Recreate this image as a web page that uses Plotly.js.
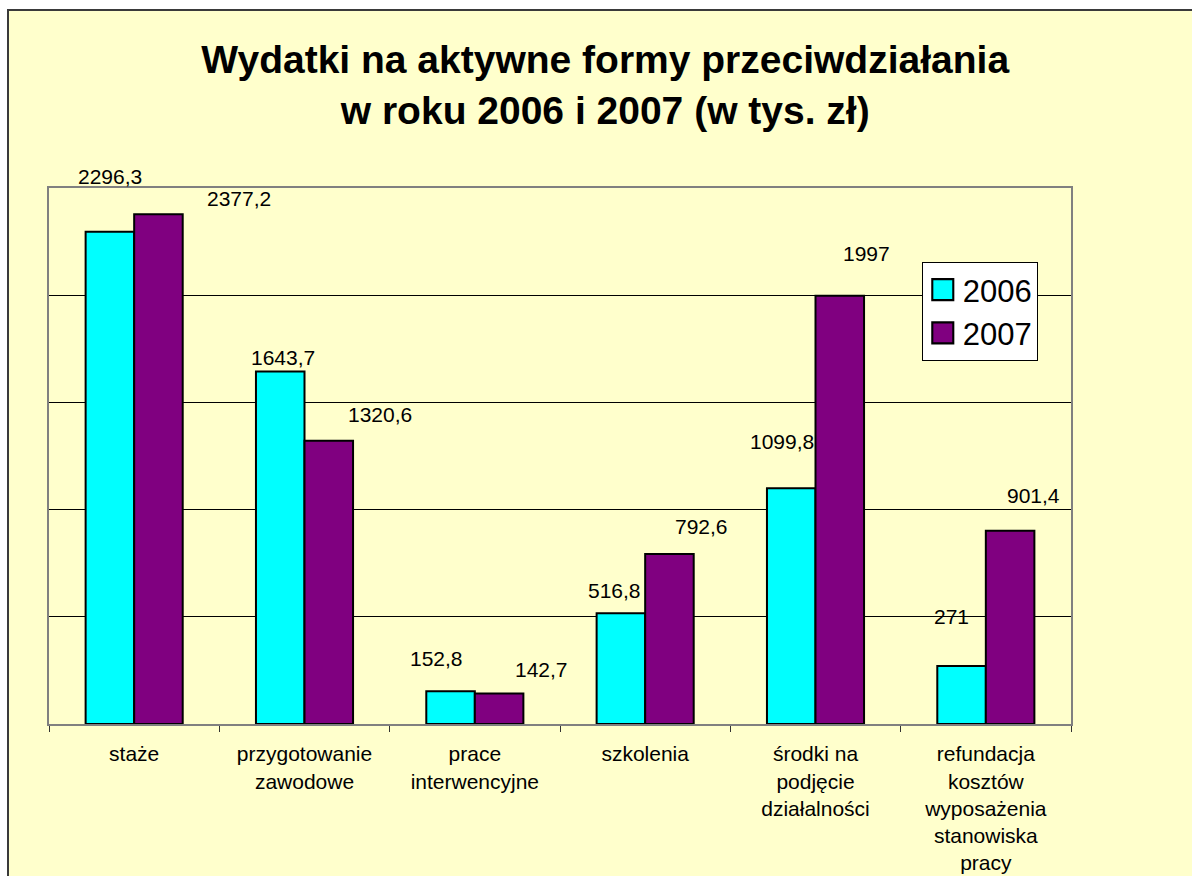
<!DOCTYPE html>
<html>
<head>
<meta charset="utf-8">
<script src="https://cdn.plot.ly/plotly-3.0.1.min.js"></script>
<style>
  html, body { margin: 0; padding: 0; background: #ffffff; width: 1192px; height: 876px; overflow: hidden; }
  #frame { position: absolute; left: 7px; top: 9px; width: 1200px; height: 900px; border-left: 2px solid #3a3a3a; border-top: 2px solid #3a3a3a; background: #FFFFCC; }
  #chart { position: absolute; left: 9px; top: 11px; width: 1183px; height: 865px; }
</style>
</head>
<body>
<div id="frame"></div>
<div id="chart"></div>
<script>
// ---- data ----
const categories = [
  "staże",
  "przygotowanie<br>zawodowe",
  "prace<br>interwencyjne",
  "szkolenia",
  "środki na<br>podjęcie<br>działalności",
  "refundacja<br>kosztów<br>wyposażenia<br>stanowiska<br>pracy"
];
const seriesNames = ["2006", "2007"];
const values2006 = [2296.3, 1643.7, 152.8, 516.8, 1099.8, 271];
const values2007 = [2377.2, 1320.6, 142.7, 792.6, 1997, 901.4];
const labels2006 = ["2296,3", "1643,7", "152,8", "516,8", "1099,8", "271"];
const labels2007 = ["2377,2", "1320,6", "142,7", "792,6", "1997", "901,4"];

// label placement offsets (pixels, relative to bar centre / bar top)
const labelDx2006 = [0, 3, -14, -6, -9, -10];
const labelDy2006 = [55, 14, 33, 23, 47, 49];
const labelDx2007 = [81, 51, 42, 32, 27, 23];
const labelDy2007 = [16, 26, 24, 28, 42, 35];

const halfBar = 24.25;
const fontFam = '"Liberation Sans", Arial, Helvetica, sans-serif';

const traces = [
  {
    type: 'bar', name: seriesNames[0], x: categories, y: values2006,
    marker: { color: '#00FFFF', line: { color: '#000000', width: 2 } },
    hoverinfo: 'skip'
  },
  {
    type: 'bar', name: seriesNames[1], x: categories, y: values2007,
    marker: { color: '#800080', line: { color: '#000000', width: 2 } },
    hoverinfo: 'skip'
  }
];

const annotations = [];
categories.forEach((c, i) => {
  annotations.push({
    x: c, y: values2006[i], xref: 'x', yref: 'y', text: labels2006[i],
    showarrow: false, xanchor: 'center', yanchor: 'middle',
    xshift: -halfBar + labelDx2006[i], yshift: labelDy2006[i],
    font: { family: fontFam, size: 21, color: '#000000' }
  });
  annotations.push({
    x: c, y: values2007[i], xref: 'x', yref: 'y', text: labels2007[i],
    showarrow: false, xanchor: 'center', yanchor: 'middle',
    xshift: halfBar + labelDx2007[i], yshift: labelDy2007[i],
    font: { family: fontFam, size: 21, color: '#000000' }
  });
});

const layout = {
  width: 1183, height: 865,
  paper_bgcolor: '#FFFFCC', plot_bgcolor: '#FFFFCC',
  margin: { l: 40, r: 121, t: 177, b: 152, pad: 0 },
  title: {
    text: '<b>Wydatki na aktywne formy przeciwdziałania<br>w roku 2006 i 2007 (w tys. zł)</b>',
    font: { family: fontFam, size: 39, color: '#000000' },
    x: 0.504, xanchor: 'center', xref: 'container',
    y: 0.928, yanchor: 'top', yref: 'container'
  },
  font: { family: fontFam, color: '#000000' },
  barmode: 'group', bargap: 0.43, bargroupgap: 0,
  xaxis: {
    type: 'category', tickson: 'boundaries', ticks: 'outside', ticklen: 6,
    tickcolor: '#333333', tickwidth: 1,
    showline: true, linecolor: '#808080', linewidth: 2, mirror: true,
    showgrid: false, zeroline: false,
    tickfont: { family: fontFam, size: 21, color: '#000000' },
    ticklabelstandoff: 10
  },
  yaxis: {
    range: [0, 2500], dtick: 500, showticklabels: false, ticks: '',
    showgrid: true, gridcolor: '#000000', gridwidth: 1,
    showline: true, linecolor: '#808080', linewidth: 2, mirror: true,
    zeroline: false
  },
  showlegend: true,
  legend: {
    x: 0.854, y: 0.862, xanchor: 'left', yanchor: 'top',
    xref: 'paper', yref: 'paper',
    bgcolor: '#FFFFFF', bordercolor: '#000000', borderwidth: 1,
    font: { family: fontFam, size: 31, color: '#000000' },
    traceorder: 'normal'
  },
  annotations: annotations
};

Plotly.newPlot('chart', traces, layout, { displayModeBar: false, staticPlot: true }).then(gd => {
  // enlarge legend swatches to match reference
  gd.querySelectorAll('.legend .legendpoints path').forEach(p => {
    p.setAttribute('transform', 'translate(20,0) scale(1.75)');
    p.style.strokeWidth = '1.2px';
    p.style.stroke = '#000';
  });
});
</script>
</body>
</html>
